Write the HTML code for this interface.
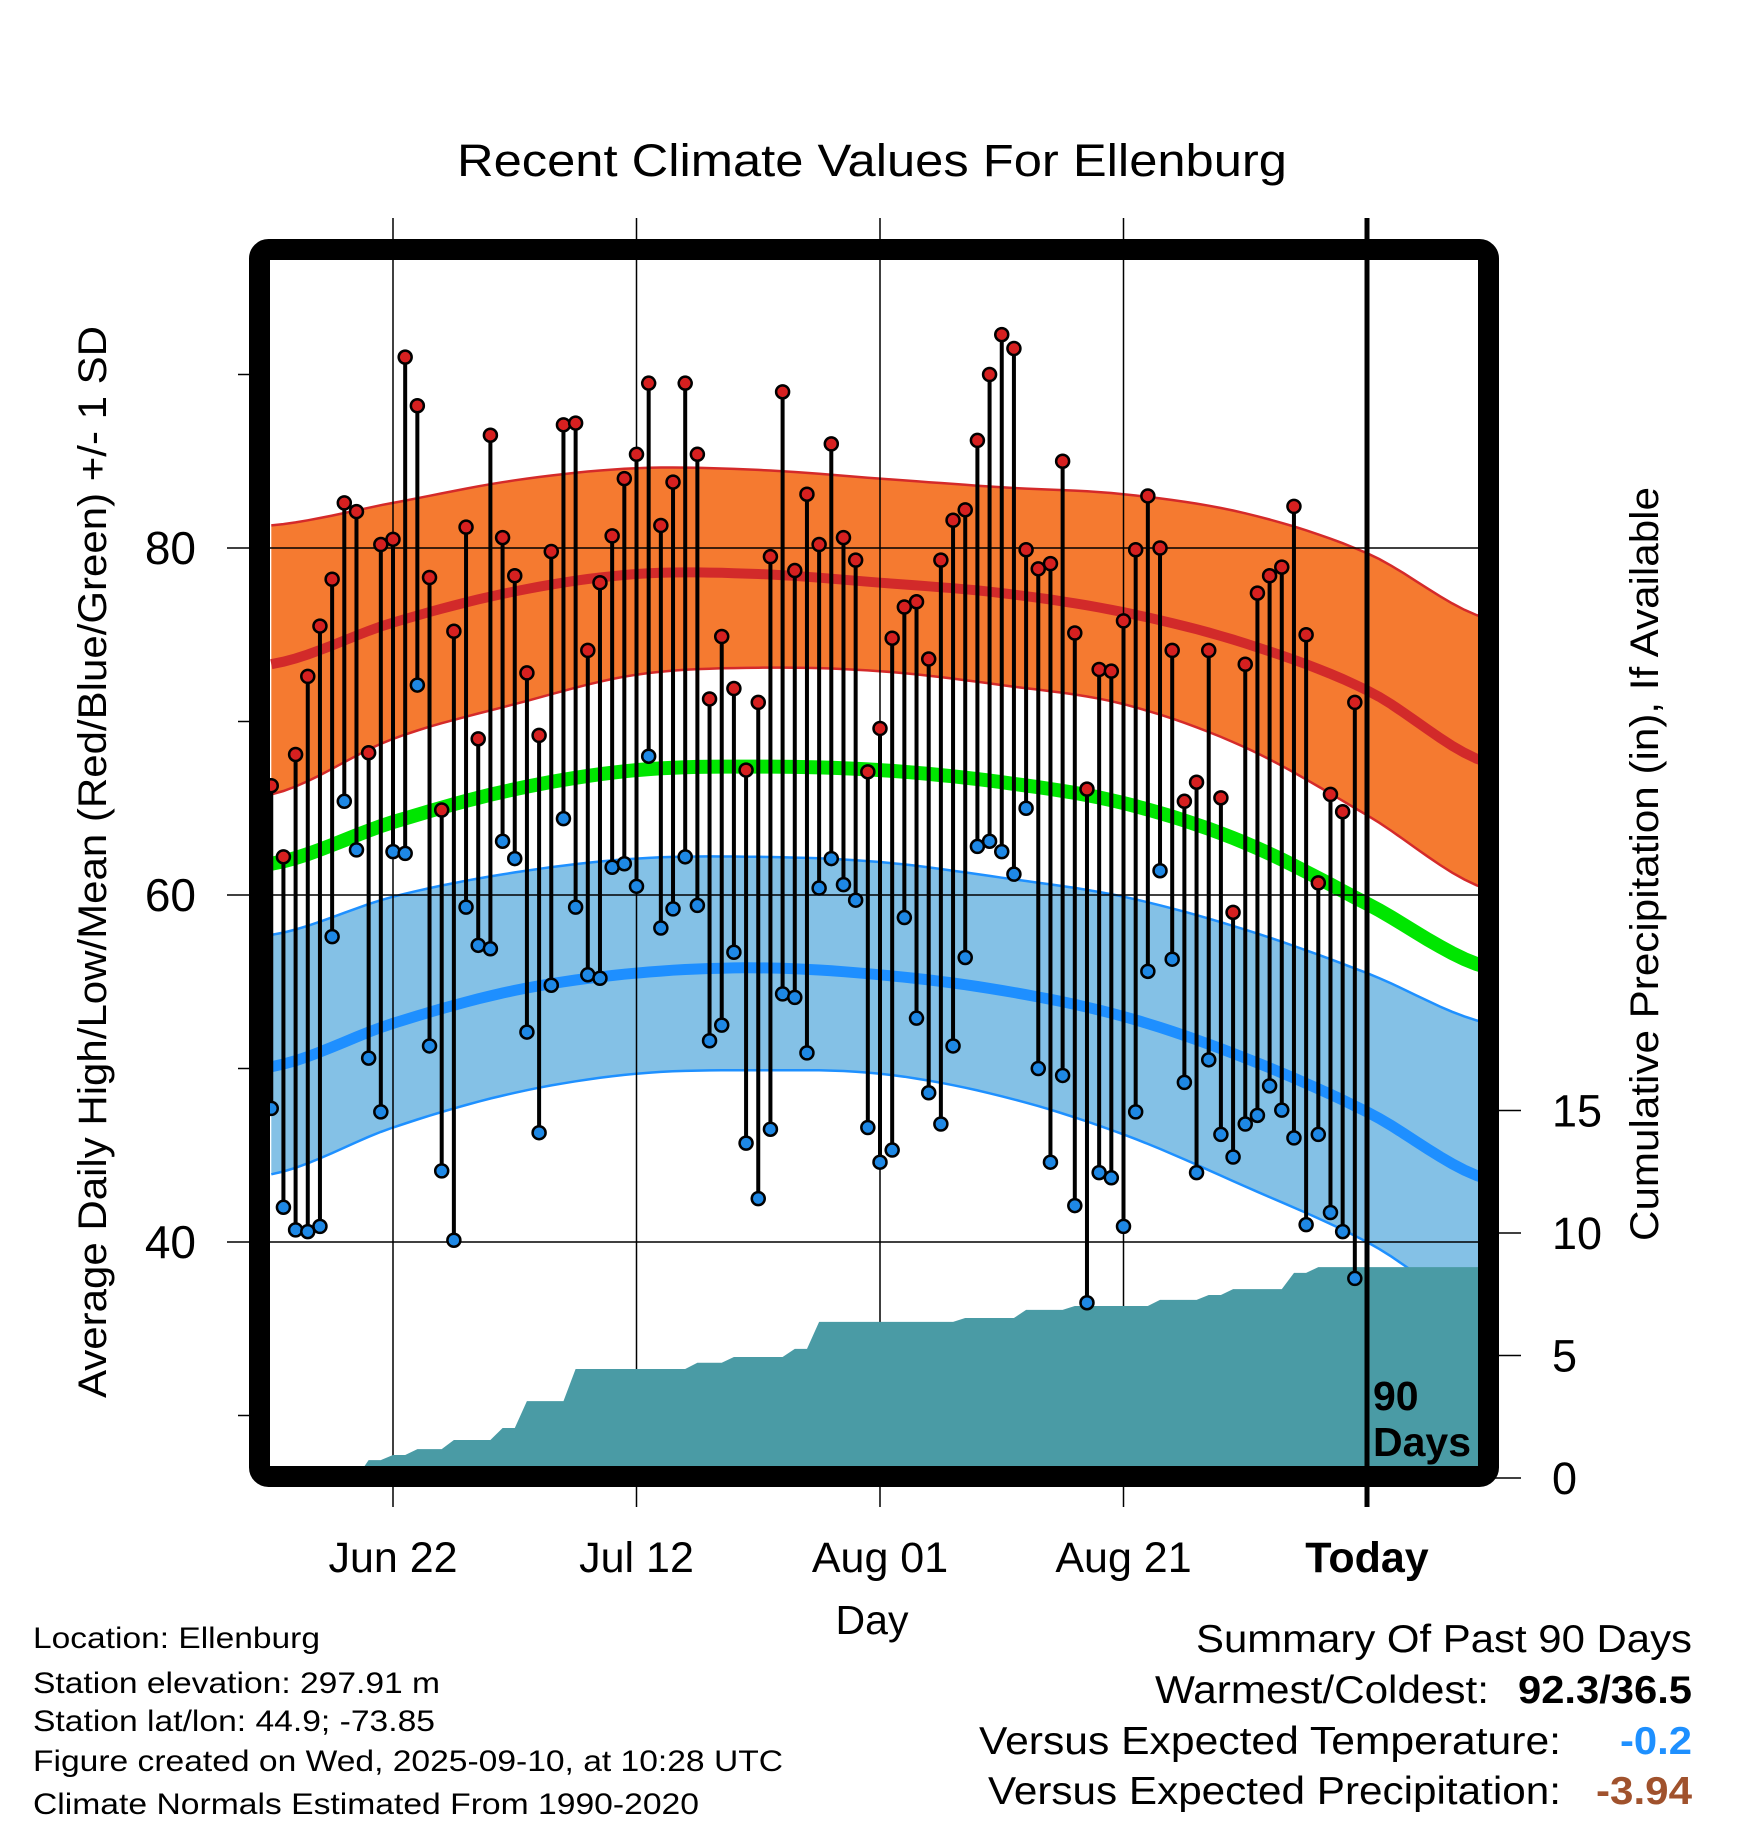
<!DOCTYPE html>
<html><head><meta charset="utf-8"><style>
html,body{margin:0;padding:0;background:#fff;}
svg{display:block;font-family:"Liberation Sans",sans-serif;}
</style></head><body>
<svg id="chart" width="1748" height="1828" viewBox="0 0 1748 1828" xmlns="http://www.w3.org/2000/svg">
<defs><clipPath id="plotclip"><rect x="270" y="260" width="1208" height="1206"/></clipPath></defs>
<text x="872" y="176" font-size="45" text-anchor="middle" textLength="830" lengthAdjust="spacingAndGlyphs">Recent Climate Values For Ellenburg</text>
<g id="bands" clip-path="url(#plotclip)"></g>
<g id="grid"></g>
<g id="precip" clip-path="url(#plotclip)"></g>
<g id="obs" clip-path="url(#plotclip)"></g>
<g id="axes"></g>
<rect x="259.5" y="249.5" width="1229" height="1227" rx="9" fill="none" stroke="#000" stroke-width="21"/>
<text x="1373" y="1410" font-size="41" font-weight="bold">90</text>
<text x="1373" y="1456" font-size="41" font-weight="bold">Days</text>
<text transform="translate(106,862) rotate(-90)" font-size="40" text-anchor="middle" textLength="1072" lengthAdjust="spacingAndGlyphs">Average Daily High/Low/Mean (Red/Blue/Green) +/- 1 SD</text>
<text transform="translate(1658,864) rotate(-90)" font-size="40" text-anchor="middle" textLength="754" lengthAdjust="spacingAndGlyphs">Cumulative Precipitation (in), If Available</text>
<text x="872" y="1634" font-size="41" text-anchor="middle">Day</text>
<g font-size="30">
<text x="33" y="1648" textLength="287" lengthAdjust="spacingAndGlyphs">Location: Ellenburg</text>
<text x="33" y="1693" textLength="407" lengthAdjust="spacingAndGlyphs">Station elevation: 297.91 m</text>
<text x="33" y="1731" textLength="402" lengthAdjust="spacingAndGlyphs">Station lat/lon: 44.9; -73.85</text>
<text x="33" y="1771" textLength="750" lengthAdjust="spacingAndGlyphs">Figure created on Wed, 2025-09-10, at 10:28 UTC</text>
<text x="33" y="1814" textLength="666" lengthAdjust="spacingAndGlyphs">Climate Normals Estimated From 1990-2020</text>
</g>
<g font-size="39">
<text x="1196" y="1652" textLength="496" lengthAdjust="spacingAndGlyphs">Summary Of Past 90 Days</text>
<text x="1155" y="1703" textLength="334" lengthAdjust="spacingAndGlyphs">Warmest/Coldest:</text>
<text x="1518" y="1703" font-weight="bold" textLength="174" lengthAdjust="spacingAndGlyphs">92.3/36.5</text>
<text x="979" y="1754" textLength="582" lengthAdjust="spacingAndGlyphs">Versus Expected Temperature:</text>
<text x="1620" y="1754" font-weight="bold" fill="#1e90ff" textLength="72" lengthAdjust="spacingAndGlyphs">-0.2</text>
<text x="988" y="1804" textLength="573" lengthAdjust="spacingAndGlyphs">Versus Expected Precipitation:</text>
<text x="1596" y="1804" font-weight="bold" fill="#a0522d" textLength="96" lengthAdjust="spacingAndGlyphs">-3.94</text>
</g>
</svg>
<script>
// observed daily highs/lows, Jun 12 .. Sep 9
const highs = [66.3,62.2,68.1,72.6,75.5,78.2,82.6,82.1,68.2,80.2,80.5,91.0,88.2,78.3,64.9,75.2,81.2,69.0,86.5,80.6,78.4,72.8,69.2,79.8,87.1,87.2,74.1,78.0,80.7,84.0,85.4,89.5,81.3,83.8,89.5,85.4,71.3,74.9,71.9,67.2,71.1,79.5,89.0,78.7,83.1,80.2,86.0,80.6,79.3,67.1,69.6,74.8,76.6,76.9,73.6,79.3,81.6,82.2,86.2,90.0,92.3,91.5,79.9,78.8,79.1,85.0,75.1,66.1,73.0,72.9,75.8,79.9,83.0,80.0,74.1,65.4,66.5,74.1,65.6,59.0,73.3,77.4,78.4,78.9,82.4,75.0,60.7,65.8,64.8,71.1];
const lows = [47.7,42.0,40.7,40.6,40.9,57.6,65.4,62.6,50.6,47.5,62.5,62.4,72.1,51.3,44.1,40.1,59.3,57.1,56.9,63.1,62.1,52.1,46.3,54.8,64.4,59.3,55.4,55.2,61.6,61.8,60.5,68.0,58.1,59.2,62.2,59.4,51.6,52.5,56.7,45.7,42.5,46.5,54.3,54.1,50.9,60.4,62.1,60.6,59.7,46.6,44.6,45.3,58.7,52.9,48.6,46.8,51.3,56.4,62.8,63.1,62.5,61.2,65.0,50.0,44.6,49.6,42.1,36.5,44.0,43.7,40.9,47.5,55.6,61.4,56.3,49.2,44.0,50.5,46.2,44.9,46.8,47.3,49.0,47.6,46.0,41.0,46.2,41.7,40.6,37.9];
// daily precipitation (in), by day index
const precipDays = [8,10,12,15,19,21,25,35,38,43,45,57,62,66,73,77,79,84,86];
const precipAmts = [0.73,0.21,0.24,0.37,0.49,1.10,1.31,0.25,0.24,0.33,1.10,0.16,0.33,0.16,0.25,0.20,0.24,0.66,0.24];
// climate normals at knot days
const normDays = [0,10,20,30,40,50,60,70,80,90,100];
const hiMean = [73.3,75.7,77.5,78.5,78.5,78.0,77.4,76.3,74.5,71.8,67.6];
const hiUpper = [81.3,82.6,83.9,84.6,84.5,84.0,83.5,83.1,82.0,79.7,75.9];
const hiLower = [65.8,69.0,71.0,72.7,73.1,72.9,72.1,71.0,68.5,64.6,60.3];
const avgMean = [61.8,64.2,66.1,67.2,67.4,67.2,66.5,65.3,63.0,59.5,55.8];
const loMean = [50.1,52.6,54.5,55.5,55.8,55.4,54.5,53.0,50.6,47.5,43.6];
const loUpper = [57.7,59.9,61.3,62.1,62.2,61.9,61.0,59.9,58.0,55.5,52.6];
const loLower = [43.9,46.6,48.6,49.7,49.9,49.7,48.4,46.2,43.2,40.0,35.8];
const xTickDays = [10,30,50,70,90];
const xTickLabels = ["Jun 22","Jul 12","Aug 01","Aug 21","Today"];
const yTicks = [40,60,80];
const yMinor = [30,50,70,90];
const pTicks = [0,5,10,15];

const NS="http://www.w3.org/2000/svg";
const X = d => 271.25 + 12.175*d;
const Y = t => 548 + (80-t)*17.35;
const P = p => 1478 - 24.5*p;
function mk(tag, attrs, parent){const e=document.createElementNS(NS,tag);for(const k in attrs)e.setAttribute(k,attrs[k]);parent.appendChild(e);return e;}
function curvePts(vals){
  const pts=[];
  for(let i=0;i<normDays.length-1;i++){
    const p0=vals[Math.max(i-1,0)],p1=vals[i],p2=vals[i+1],p3=vals[Math.min(i+2,vals.length-1)];
    for(let s=0;s<10;s++){const t=s/10;
      const v=0.5*((2*p1)+(-p0+p2)*t+(2*p0-5*p1+4*p2-p3)*t*t+(-p0+3*p1-3*p2+p3)*t*t*t);
      pts.push([X(normDays[i]+t*(normDays[i+1]-normDays[i])),Y(v)]);}
  }
  pts.push([X(normDays[normDays.length-1]),Y(vals[vals.length-1])]);
  return pts;
}
const toPath = pts => pts.map((p,i)=>(i?'L':'M')+p[0].toFixed(1)+' '+p[1].toFixed(1)).join(' ');
const bands=document.getElementById('bands');
function band(up,lo,fill,edge,name){
  const u=curvePts(up), l=curvePts(lo).reverse();
  const b=mk('path',{d:toPath(u)+' '+toPath(l).replace('M','L')+' Z',fill:fill},bands);
  
  
  [up,lo].forEach(v=>{const e=mk('path',{d:toPath(curvePts(v)),fill:'none',stroke:edge,'stroke-width':2.5},bands);
    
    });
}
band(hiUpper,hiLower,'#f57a30','#d42a2a','high-sd-band');
band(loUpper,loLower,'#84c1e6','#1e90ff','low-sd-band');
function line(vals,color,w,name){const e=mk('path',{d:toPath(curvePts(vals)),fill:'none',stroke:color,'stroke-width':w},bands);
  
  }
line(hiMean,'#d22a2a',10,'mean-high-line');
line(avgMean,'#00e600',14,'mean-line');
line(loMean,'#1e8fff',11,'mean-low-line');

const grid=document.getElementById('grid');
const axes=document.getElementById('axes');
yTicks.forEach(t=>{const g=mk('line',{x1:227,x2:1478,y1:Y(t),y2:Y(t),stroke:'#000','stroke-width':1.5},grid);
  
  
  const tx=mk('text',{x:196,y:Y(t)+16,'font-size':46,'text-anchor':'end'},axes);tx.textContent=t;
  
  });
yMinor.forEach(t=>{const g=mk('line',{x1:238,x2:252,y1:Y(t),y2:Y(t),stroke:'#000','stroke-width':1.5},axes);
  
  });
xTickDays.forEach((d,i)=>{const g=mk('line',{x1:X(d),x2:X(d),y1:218,y2:1507,stroke:'#000','stroke-width':1.5},grid);
  
  
  const tx=mk('text',{x:X(d),y:1572,'font-size':43,'text-anchor':'middle'},axes);tx.textContent=xTickLabels[i];
  if(xTickLabels[i]==='Today')tx.setAttribute('font-weight','bold');
  
  });
pTicks.forEach(p=>{const g=mk('line',{x1:1488,x2:1521,y1:P(p),y2:P(p),stroke:'#000','stroke-width':1.5},axes);
  
  
  const tx=mk('text',{x:1552,y:P(p)+16,'font-size':45},axes);tx.textContent=p;
  
  });

// cumulative precip area (linear between days)
const pr=document.getElementById('precip');
let cum=0; const pts=[];
for(let day=0; day<highs.length; day++){
  const k=precipDays.indexOf(day); if(k>=0) cum+=precipAmts[k];
  pts.push([X(day),P(cum)]);
}
let d='M'+X(0)+' 1480 '+pts.map(p=>'L'+p[0].toFixed(1)+' '+p[1].toFixed(1)).join(' ');
d+=' L1480 '+P(cum).toFixed(1)+' L1480 1480 Z';
const pa=mk('path',{d:d,fill:'#4a9ba5'},pr);



const obs=document.getElementById('obs');
highs.forEach((h,i)=>{const l=lows[i];
  const s=mk('line',{x1:X(i),x2:X(i),y1:Y(h),y2:Y(l),stroke:'#000','stroke-width':4},obs);
  
  });
highs.forEach((h,i)=>{
  const a=mk('circle',{cx:X(i),cy:Y(h),r:6.5,fill:'#d62020',stroke:'#000','stroke-width':2.5},obs);
  
  
  const b=mk('circle',{cx:X(i),cy:Y(lows[i]),r:6.5,fill:'#1e88e5',stroke:'#000','stroke-width':2.5},obs);
  
  });
const td=mk('line',{x1:X(90),x2:X(90),y1:218,y2:1507,stroke:'#000','stroke-width':5},axes);


</script>
</body></html>
